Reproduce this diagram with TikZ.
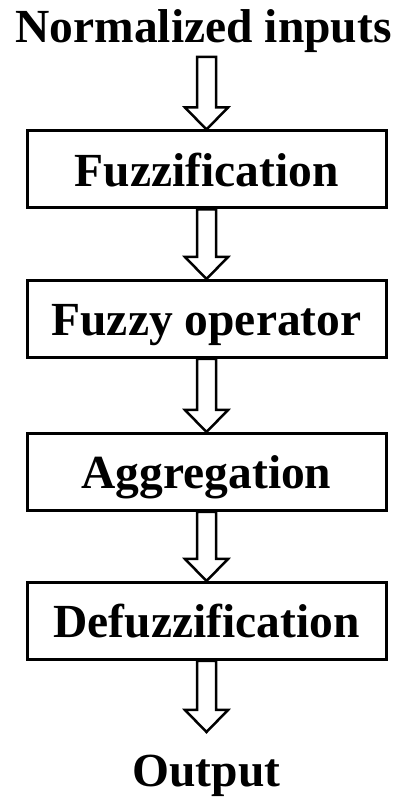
\documentclass[tikz,border=0pt]{standalone}
\usepackage{fontspec}
\setmainfont{Liberation Serif}
\usetikzlibrary{calc}
\tikzset{
  stagebox/.style={draw=black, line width=3pt, fill=white, minimum width=359pt, minimum height=77pt,
    inner sep=0pt, text height=42.75pt, text depth=9.5pt, font=\fontsize{47.5}{57}\selectfont\bfseries},
  label/.style={anchor=base, inner sep=0pt, font=\fontsize{47.5}{57}\selectfont\bfseries},
  hollow/.style={draw=black, line width=2.5pt, fill=white, line join=miter}
}
\newcommand\harrow[2]{%
  \draw[hollow] ($(#1)+(-9.5,0)$) -- ($(#2)+(-9.5,22)$) -- ($(#2)+(-21.5,22)$) -- (#2)
    -- ($(#2)+(21.5,22)$) -- ($(#2)+(9.5,22)$) -- ($(#1)+(9.5,0)$) -- cycle;}
\begin{document}
\begin{tikzpicture}[x=1pt,y=1pt]
\useasboundingbox (0,0) rectangle (403,804);
\node[label] (in) at (203.5,761) {Normalized inputs};
\coordinate (instart) at (206.5,747);
\node[stagebox] (b1) at (206.5,634.5) {Fuzzification};
\node[stagebox] (b2) at (206.5,485) {Fuzzy operator};
\node[stagebox] (b3) at (206.5,332) {Aggregation};
\node[stagebox] (b4) at (206.5,183) {Defuzzification};
\coordinate (outtip) at (206.5,72);
\node[label] (out) at (206.5,17) {Output};
\harrow{instart}{b1.north}
\harrow{b1.south}{b2.north}
\harrow{b2.south}{b3.north}
\harrow{b3.south}{b4.north}
\harrow{b4.south}{outtip}
\end{tikzpicture}
\end{document}
